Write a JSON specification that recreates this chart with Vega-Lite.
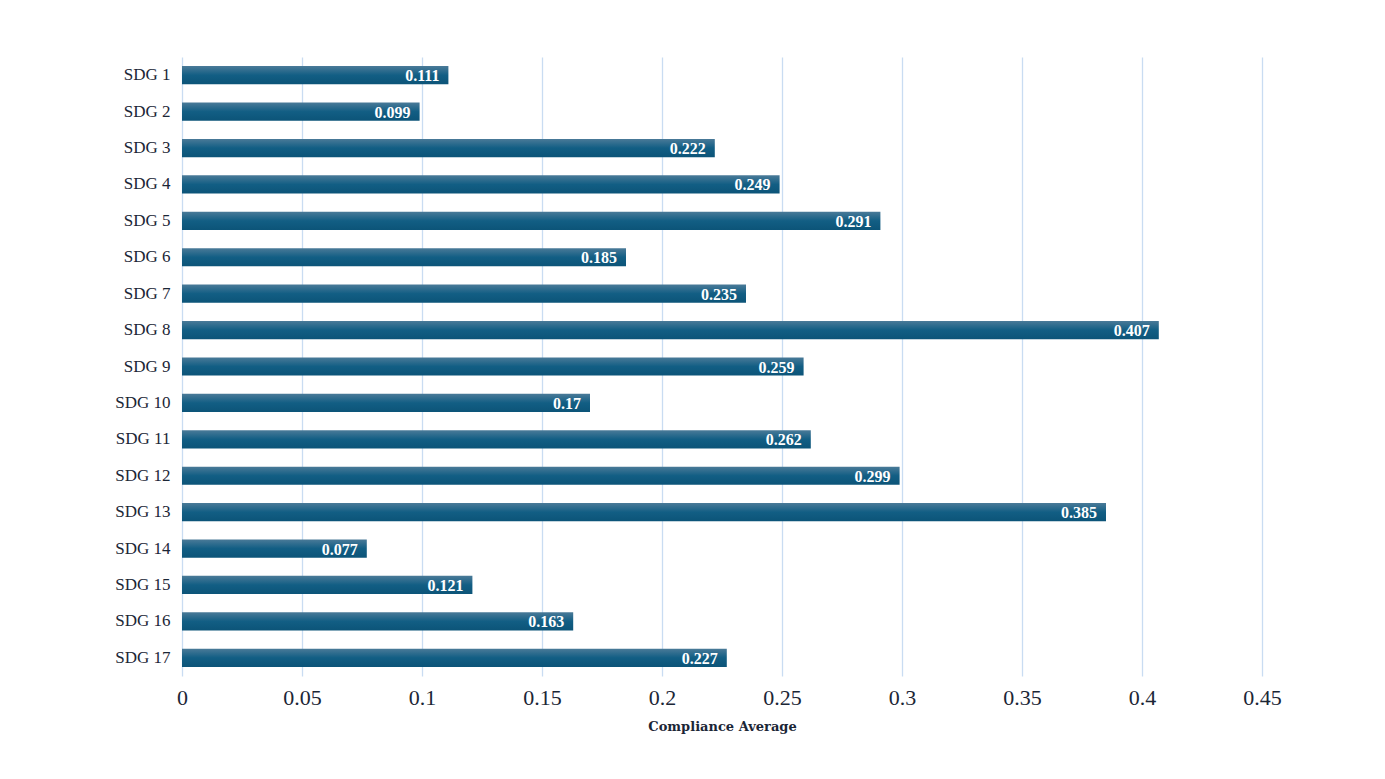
{
  "$schema": "https://vega.github.io/schema/vega-lite/v6.json",
  "autosize": {"type": "none"},
  "padding": {"left": 182, "top": 57, "right": 123, "bottom": 103},
  "width": 1080,
  "height": 619,
  "background": "white",
  "data": {"values": [
    {"sdg": "SDG 1", "value": 0.111},
    {"sdg": "SDG 2", "value": 0.099},
    {"sdg": "SDG 3", "value": 0.222},
    {"sdg": "SDG 4", "value": 0.249},
    {"sdg": "SDG 5", "value": 0.291},
    {"sdg": "SDG 6", "value": 0.185},
    {"sdg": "SDG 7", "value": 0.235},
    {"sdg": "SDG 8", "value": 0.407},
    {"sdg": "SDG 9", "value": 0.259},
    {"sdg": "SDG 10", "value": 0.17},
    {"sdg": "SDG 11", "value": 0.262},
    {"sdg": "SDG 12", "value": 0.299},
    {"sdg": "SDG 13", "value": 0.385},
    {"sdg": "SDG 14", "value": 0.077},
    {"sdg": "SDG 15", "value": 0.121},
    {"sdg": "SDG 16", "value": 0.163},
    {"sdg": "SDG 17", "value": 0.227}
  ]},
  "config": {
    "view": {"stroke": null},
    "font": "Liberation Serif"
  },
  "encoding": {
    "y": {
      "field": "sdg", "type": "nominal", "sort": null,
      "scale": {"paddingInner": 0.5, "paddingOuter": 0.25},
      "axis": {"title": null, "domain": false, "ticks": false, "grid": false, "labelPadding": 12, "labelFontSize": 17, "labelColor": "#1b2636", "labelFont": "Liberation Serif"}
    },
    "x": {
      "field": "value", "type": "quantitative",
      "scale": {"domain": [0, 0.45], "nice": false},
      "axis": {"values": [0, 0.05, 0.1, 0.15, 0.2, 0.25, 0.3, 0.35, 0.4, 0.45], "format": "~g", "labelFlush": false, "title": "Compliance Average", "titleFontSize": 13, "titleFont": "DejaVu Serif", "titleFontWeight": "bold", "titleColor": "#1b2636", "titlePadding": 12, "domain": false, "ticks": false, "grid": true, "gridColor": "#c9dcf2", "gridWidth": 1.3, "labelPadding": 11, "labelFontSize": 22, "labelColor": "#1b2636", "labelFont": "Liberation Serif"}
    }
  },
  "layer": [
    {
      "mark": {"type": "bar", "color": {"gradient": "linear", "x1": 0, "y1": 0, "x2": 0, "y2": 1, "stops": [{"offset": 0, "color": "#4a7a98"}, {"offset": 0.5, "color": "#125e84"}, {"offset": 1, "color": "#0c5478"}]}}
    },
    {
      "mark": {"type": "text", "align": "right", "dx": -9, "dy": 1, "color": "white", "fontWeight": "bold", "fontSize": 16, "font": "Liberation Serif"},
      "encoding": {"text": {"field": "value", "type": "quantitative"}}
    }
  ]
}
